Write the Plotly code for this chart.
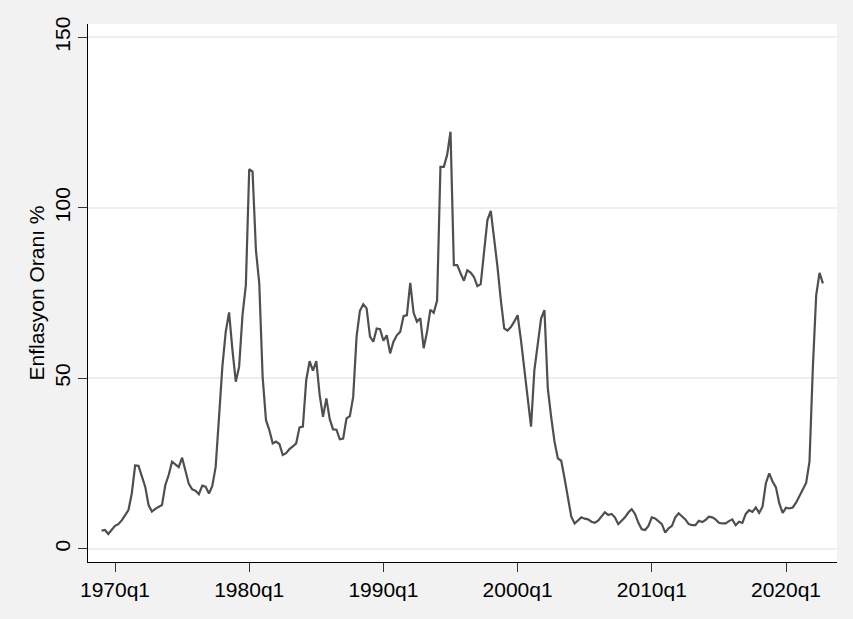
import plotly.graph_objects as go

# Quarterly annual CPI inflation, 1969q1 - 2022q4 (one row per year, Q1..Q4)
start_year = 1969
inflation = [
    5.3, 5.5, 4.3, 5.4,        # 1969
    6.7, 7.2, 8.3, 9.8,        # 1970
    11.3, 16.2, 24.4, 24.3,    # 1971
    21.1, 18.2, 12.8, 10.9,    # 1972
    11.7, 12.3, 12.8, 18.7,    # 1973
    21.6, 25.5, 24.6, 23.9,    # 1974
    26.7, 23.1, 19.0, 17.4,    # 1975
    17.0, 16.0, 18.5, 18.2,    # 1976
    16.2, 18.4, 24.0, 38.5,    # 1977
    53.4, 63.6, 69.3, 58.3,    # 1978
    49.0, 53.4, 68.5, 77.3,    # 1979
    111.3, 110.6, 87.6, 77.8,  # 1980
    50.4, 37.7, 34.8, 30.9,    # 1981
    31.4, 30.7, 27.5, 28.0,    # 1982
    29.2, 30.0, 30.9, 35.6,    # 1983
    35.8, 49.5, 55.0, 52.2,    # 1984
    55.0, 45.1, 38.7, 44.1,    # 1985
    38.0, 35.0, 34.9, 32.1,    # 1986
    32.3, 38.2, 38.9, 44.6,    # 1987
    62.2, 69.8, 71.7, 70.5,    # 1988
    62.2, 60.7, 64.6, 64.4,    # 1989
    61.0, 62.6, 57.3, 60.7,    # 1990
    62.6, 63.6, 68.2, 68.5,    # 1991
    78.0, 69.2, 66.6, 67.6,    # 1992
    58.8, 63.6, 70.1, 69.2,    # 1993
    72.8, 112.0, 112.0, 115.5, # 1994
    122.3, 83.2, 83.2, 80.8,   # 1995
    78.6, 81.7, 81.0, 79.7,    # 1996
    77.0, 77.6, 87.6, 96.4,    # 1997
    99.1, 91.5, 82.7, 72.9,    # 1998
    64.6, 64.0, 65.0, 66.6,    # 1999
    68.5, 61.2, 52.9, 43.6,    # 2000
    35.8, 52.4, 59.2, 67.5,    # 2001
    70.0, 47.0, 38.7, 31.4,    # 2002
    26.5, 25.8, 20.6, 14.8,    # 2003
    9.4, 7.4, 8.2, 9.2,        # 2004
    8.8, 8.6, 7.9, 7.6,        # 2005
    8.2, 9.4, 10.7, 9.9,       # 2006
    10.2, 9.2, 7.2, 8.2,       # 2007
    9.2, 10.6, 11.6, 10.2,     # 2008
    7.6, 5.7, 5.5, 6.7,        # 2009
    9.2, 8.9, 8.1, 7.2,        # 2010
    4.7, 6.0, 6.7, 9.2,        # 2011
    10.4, 9.6, 8.6, 7.2,       # 2012
    6.9, 6.9, 8.2, 7.8,        # 2013
    8.4, 9.4, 9.2, 8.6,        # 2014
    7.6, 7.4, 7.4, 8.1,        # 2015
    8.6, 6.9, 7.9, 7.6,        # 2016
    10.2, 11.3, 10.8, 12.1,    # 2017
    10.5, 12.3, 19.2, 22.1,    # 2018
    19.7, 18.0, 13.3, 10.5,    # 2019
    12.0, 11.8, 12.1, 13.5,    # 2020
    15.4, 17.0, 19.3, 25.5,    # 2021
    53.0, 74.4, 80.9, 77.8,    # 2022
]

tick_years = [1970, 1980, 1990, 2000, 2010, 2020]
y_ticks = [0, 50, 100, 150]


def tq(year, quarter):
    """Quarter count since 1960q1 (Stata %tq convention)."""
    return (year - 1960) * 4 + (quarter - 1)


t0 = tq(start_year, 1)
quarters = [t0 + i for i in range(len(inflation))]
x_tickvals = [tq(y, 1) for y in tick_years]
x_ticktext = [f"{y}q1" for y in tick_years]

FONT = "Arial, Liberation Sans, sans-serif"

fig = go.Figure()
fig.add_trace(go.Scatter(
    x=quarters,
    y=inflation,
    mode="lines",
    line=dict(color="#4F4F4F", width=2.2),
    hoverinfo="x+y",
    showlegend=False,
))

fig.update_layout(
    width=853,
    height=619,
    margin=dict(l=88, r=16, t=24, b=57),
    paper_bgcolor="#F2F2F2",
    plot_bgcolor="#FFFFFF",
    font=dict(family=FONT, size=21, color="#000000"),
)

fig.update_xaxes(
    range=[31.95, 255.2],
    tickmode="array",
    tickvals=x_tickvals,
    ticktext=x_ticktext,
    ticks="outside",
    ticklen=9,
    tickwidth=1,
    tickcolor="#333333",
    showline=True,
    linecolor="#000000",
    linewidth=1,
    showgrid=False,
    zeroline=False,
    tickfont=dict(size=21),
)

fig.update_yaxes(
    range=[-3.9, 153.9],
    tickmode="array",
    tickvals=y_ticks,
    ticks="outside",
    ticklen=9,
    tickwidth=1,
    tickcolor="#333333",
    tickangle=-90,
    showline=True,
    linecolor="#000000",
    linewidth=1,
    showgrid=True,
    gridcolor="#EEEEEE",
    gridwidth=1.5,
    zeroline=False,
    tickfont=dict(size=21),
    title=dict(text="Enflasyon Oranı %", font=dict(size=21), standoff=0),
)

fig.write_html("out.html")
